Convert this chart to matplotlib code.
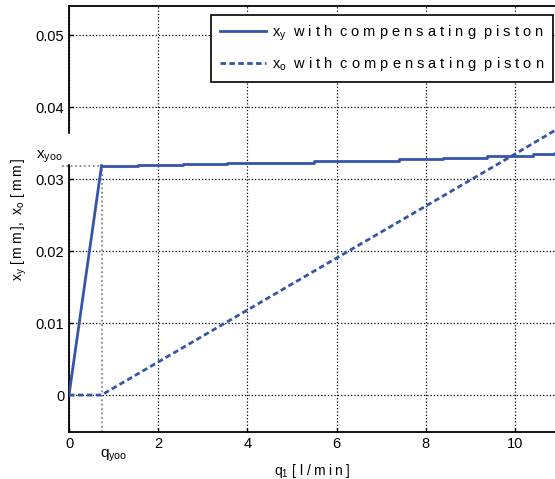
import matplotlib
matplotlib.use('Agg')
import matplotlib.pyplot as plt
import numpy as np

plt.rcParams['font.family'] = ['Liberation Sans', 'DejaVu Sans']
plt.rcParams['mathtext.fontset'] = 'custom'
plt.rcParams['mathtext.rm'] = 'Liberation Sans'
plt.rcParams['mathtext.it'] = 'Liberation Sans'

# q_yoo / x_yoo break point
q_yoo = 0.73
x_yoo = 0.0319

# x_y : rises to x_yoo, then creeps up in small steps
xy_q = [0.0, 0.73, 1.55, 2.56, 3.55, 4.5, 5.5, 6.45, 7.4, 8.39, 9.37, 10.4, 10.9]
xy_v = [0.0, 0.0319, 0.0320, 0.0321, 0.0322, 0.0323, 0.0325, 0.0326, 0.0328, 0.0330, 0.0332, 0.0335, 0.0336]

# x_o : zero until q_yoo, then linear
xo_q = [0.0, 0.73, 10.0, 10.9]
xo_v = [0.0, 0.0, 0.0335, 0.0368]

blue = '#3356a8'
ts = '\u2009'  # thin space for letter spacing in axis labels

fig = plt.figure(figsize=(5.55, 4.79), dpi=100)
ax = fig.add_axes([69/555, 1 - 431.7/479, 486/555, 425.7/479])

# stepped part of x_y drawn as post-steps after the ramp
ax.plot(xy_q[:2], xy_v[:2], color=blue, lw=2, zorder=3)
ax.plot(xy_q[1:], xy_v[1:], color=blue, lw=2, drawstyle='steps-post', zorder=3,
        label=r'$\mathrm{x}_{\mathrm{y}}$  w i t h  c o m p e n s a t i n g  p i s t o n')
ax.plot(xo_q, xo_v, color=blue, lw=2, ls=(0, (2, 1.2)), zorder=3,
        label=r'$\mathrm{x}_{\mathrm{o}}$  w i t h  c o m p e n s a t i n g  p i s t o n')

ax.set_xlim(0, 10.9)
ax.set_ylim(-0.0051, 0.0541)
ax.set_xticks([0, 2, 4, 6, 8, 10])
ax.set_yticks([0, 0.01, 0.02, 0.03, 0.04, 0.05])
ax.set_yticklabels(['0', '0.01', '0.02', '0.03', '0.04', '0.05'])
ax.tick_params(direction='in', length=3, labelsize=10.5, width=1)
ax.grid(True, color='black', ls=':', lw=0.9)
ax.spines['right'].set_visible(False)
for s in ['left', 'bottom', 'top']:
    ax.spines[s].set_linewidth(1.3)

# guide lines to the break point
ax.plot([-0.15, q_yoo], [x_yoo, x_yoo], color='#777777', ls=':', lw=1.2, zorder=2, clip_on=False)
ax.plot([q_yoo, q_yoo], [-0.0051, x_yoo], color='#777777', ls=':', lw=1.2, zorder=2)

# gap in the left spine near the x_yoo label
y0, y1 = ax.get_ylim()
ax.axvline(0, ymin=(0.0324 - y0)/(y1 - y0), ymax=(0.0362 - y0)/(y1 - y0),
           color='white', lw=2.5, clip_on=False, zorder=6)

ax.text(-0.15, x_yoo + 0.0001, r'$\mathrm{x}_{\mathrm{yoo}}$', ha='right', va='bottom',
        fontsize=11, clip_on=False)
ax.text(q_yoo - 0.03, -0.0073, r'$\mathrm{q}_{\mathrm{yoo}}$', ha='left', va='top',
        fontsize=11, clip_on=False)

xlab = r'$\mathrm{q}_{\mathrm{1}}$ [ l / ' + ts.join('min') + ' ]'
ylab = (r'$\mathrm{x}_{\mathrm{y}}$ [' + ts + 'm' + ts + 'm' + ts + '],  '
        r'$\mathrm{x}_{\mathrm{o}}$ [' + ts + 'm' + ts + 'm' + ts + ']')
ax.set_xlabel(xlab, fontsize=10, labelpad=8)
ax.set_ylabel(ylab, fontsize=10, labelpad=5)

leg = ax.legend(loc='upper right', bbox_to_anchor=(0.996, 0.979), borderaxespad=0,
                fancybox=False, edgecolor='black', framealpha=1, fontsize=10.5,
                handlelength=3.2, handletextpad=0.4, borderpad=0.6, labelspacing=0.85)
leg.get_frame().set_linewidth(1.2)

fig.savefig('out.png', dpi=100)
